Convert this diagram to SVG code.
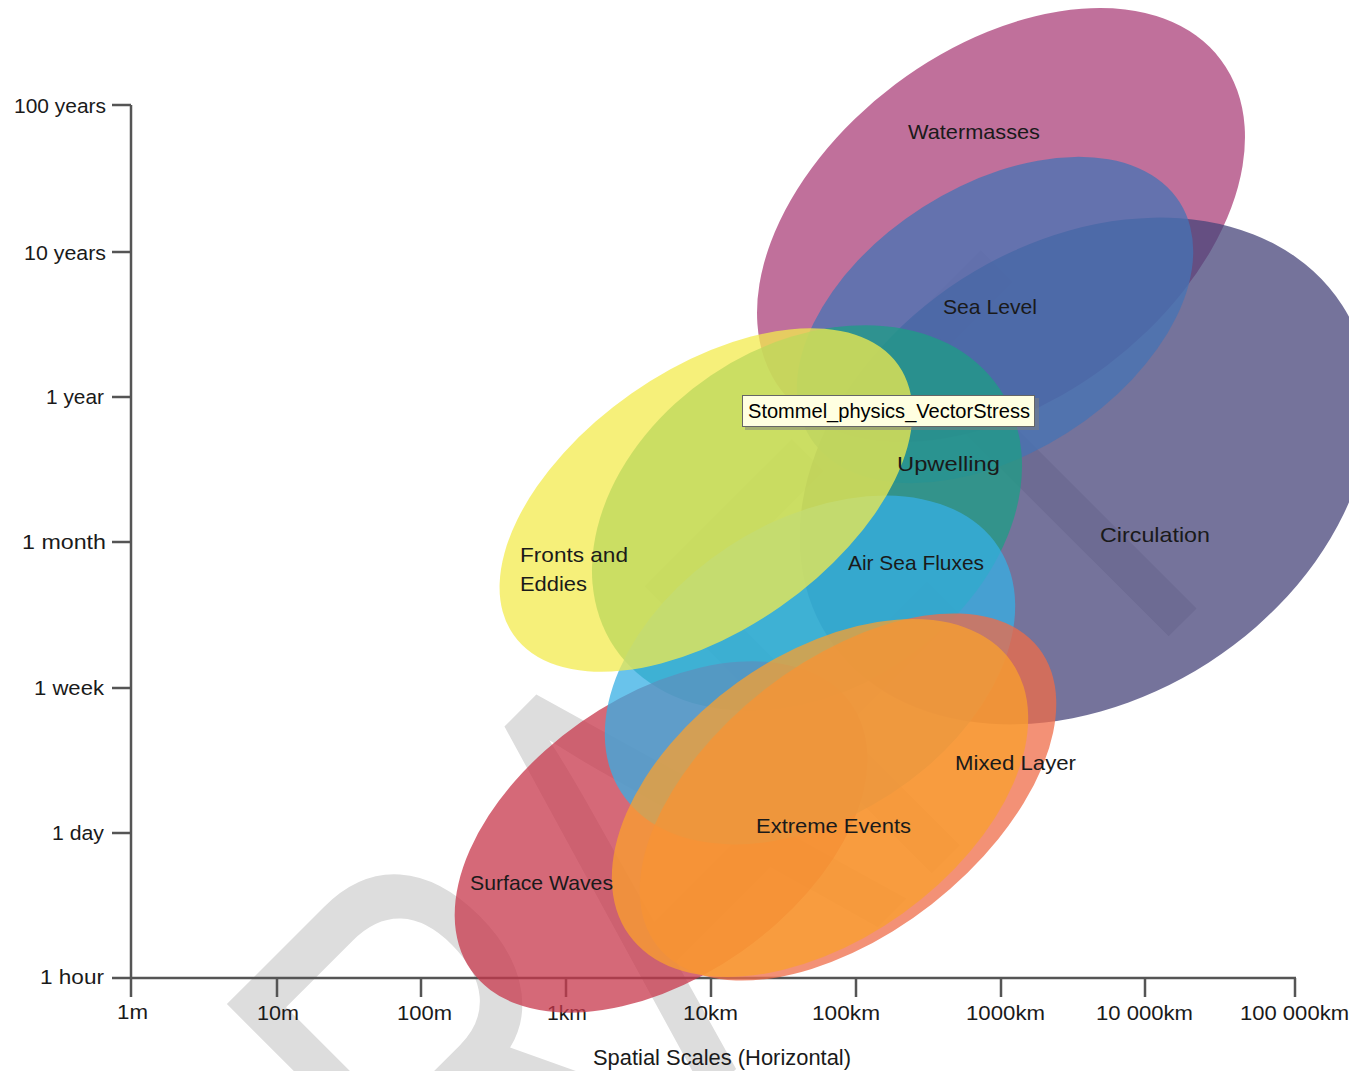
<svg xmlns="http://www.w3.org/2000/svg" width="1349" height="1071" viewBox="0 0 1349 1071">
<style>
.lbl{font-family:"Liberation Sans",Arial,sans-serif;font-size:21px;fill:#1a1a1a}
.axl{font-family:"Liberation Sans",Arial,sans-serif;font-size:20.5px;fill:#1a1a1a}
.ax{stroke:#555;stroke-width:2.5;fill:none}
.yl{text-anchor:end}
.xl{text-anchor:middle}
.blob{fill-opacity:0.75}
.wm{font-family:"Liberation Sans",Arial,sans-serif;font-size:590px;fill:#dddddd}
.tip{font-family:"Liberation Sans",Arial,sans-serif;font-size:19.5px;fill:#000}
</style>
<rect width="1349" height="1071" fill="#ffffff"/>
<g id="watermark">
<text class="wm" transform="translate(272,1533) rotate(-45) scale(0.721,1)">DRAFT</text>
</g>
<g id="axes">
<path class="ax" d="M131,105 V997 M112,978 H1296"/>
<path class="ax" d="M112,105 H131 M112,252 H131 M112,397 H131 M112,542 H131 M112,688 H131 M112,833 H131"/>
<path class="ax" d="M277,978 V997 M421,978 V997 M566,978 V997 M711,978 V997 M856,978 V997 M1001,978 V997 M1145,978 V997 M1295,978 V997"/>
<text class="axl yl" x="106" y="113" textLength="92" lengthAdjust="spacingAndGlyphs">100 years</text>
<text class="axl yl" x="106" y="260" textLength="82" lengthAdjust="spacingAndGlyphs">10 years</text>
<text class="axl yl" x="104" y="404" textLength="58" lengthAdjust="spacingAndGlyphs">1 year</text>
<text class="axl yl" x="106" y="549" textLength="84" lengthAdjust="spacingAndGlyphs">1 month</text>
<text class="axl yl" x="104" y="695" textLength="70" lengthAdjust="spacingAndGlyphs">1 week</text>
<text class="axl yl" x="104" y="840" textLength="52" lengthAdjust="spacingAndGlyphs">1 day</text>
<text class="axl yl" x="104" y="984" textLength="64" lengthAdjust="spacingAndGlyphs">1 hour</text>
<text class="axl xl" x="132.5" y="1019" textLength="31" lengthAdjust="spacingAndGlyphs">1m</text>
<text class="axl xl" x="278" y="1020" textLength="42" lengthAdjust="spacingAndGlyphs">10m</text>
<text class="axl xl" x="424.5" y="1020" textLength="55" lengthAdjust="spacingAndGlyphs">100m</text>
<text class="axl xl" x="567" y="1020" textLength="40" lengthAdjust="spacingAndGlyphs">1km</text>
<text class="axl xl" x="710.5" y="1020" textLength="55" lengthAdjust="spacingAndGlyphs">10km</text>
<text class="axl xl" x="846" y="1020" textLength="68" lengthAdjust="spacingAndGlyphs">100km</text>
<text class="axl xl" x="1005.5" y="1020" textLength="79" lengthAdjust="spacingAndGlyphs">1000km</text>
<text class="axl xl" x="1144.5" y="1020" textLength="97" lengthAdjust="spacingAndGlyphs">10 000km</text>
<text class="axl xl" x="1294.5" y="1020" textLength="109" lengthAdjust="spacingAndGlyphs">100 000km</text>
<text class="axl xl" x="722" y="1065" textLength="258" lengthAdjust="spacingAndGlyphs" style="font-size:21.5px">Spatial Scales (Horizontal)</text>
</g>
<g id="node-watermasses"><ellipse class="blob" cx="1001" cy="225" rx="275" ry="176" transform="rotate(-36.9 1001 225)" fill="#AB407A"/></g>
<g id="node-circulation"><ellipse class="blob" cx="1085" cy="471" rx="306" ry="228" transform="rotate(-32.8 1085 471)" fill="#47447A"/></g>
<g id="node-sea-level"><ellipse class="blob" cx="995" cy="320" rx="219" ry="134" transform="rotate(-32.5 995 320)" fill="#4673B4"/></g>
<g id="node-upwelling"><ellipse class="blob" cx="807" cy="518" rx="232" ry="172" transform="rotate(-34 807 518)" fill="#1E9E85"/></g>
<g id="node-surface-waves"><ellipse class="blob" cx="661" cy="837" rx="232" ry="140" transform="rotate(-35 661 837)" fill="#C7374B"/></g>
<g id="node-air-sea-fluxes"><ellipse class="blob" cx="810" cy="670" rx="225" ry="148" transform="rotate(-33 810 670)" fill="#37AFE4"/></g>
<g id="node-fronts-eddies"><ellipse class="blob" cx="706" cy="500" rx="235" ry="130" transform="rotate(-35 706 500)" fill="#F3EB4E"/></g>
<g id="node-mixed-layer"><ellipse class="blob" cx="848" cy="797" rx="242" ry="136" transform="rotate(-38 848 797)" fill="#EF6C48"/></g>
<g id="node-extreme-events"><ellipse class="blob" cx="820" cy="798" rx="235" ry="142" transform="rotate(-35.6 820 798)" fill="#FAA02D"/></g>
<g id="labels">
<text class="lbl" x="908" y="139" textLength="132" lengthAdjust="spacingAndGlyphs">Watermasses</text>
<text class="lbl" x="943" y="314" textLength="94" lengthAdjust="spacingAndGlyphs">Sea Level</text>
<text class="lbl" x="897" y="471" textLength="103" lengthAdjust="spacingAndGlyphs">Upwelling</text>
<text class="lbl" x="1100" y="542" textLength="110" lengthAdjust="spacingAndGlyphs">Circulation</text>
<text class="lbl" x="520" y="562" textLength="108" lengthAdjust="spacingAndGlyphs">Fronts and</text>
<text class="lbl" x="520" y="591" textLength="67" lengthAdjust="spacingAndGlyphs">Eddies</text>
<text class="lbl" x="848" y="570" textLength="136" lengthAdjust="spacingAndGlyphs">Air Sea Fluxes</text>
<text class="lbl" x="955" y="770" textLength="121" lengthAdjust="spacingAndGlyphs">Mixed Layer</text>
<text class="lbl" x="756" y="833" textLength="155" lengthAdjust="spacingAndGlyphs">Extreme Events</text>
<text class="lbl" x="470" y="890" textLength="143" lengthAdjust="spacingAndGlyphs">Surface Waves</text>
</g>
<g id="tooltip">
<rect x="745" y="398" width="294" height="32" fill="#808080" fill-opacity="0.5"/>
<rect x="742.5" y="395.5" width="292" height="31" fill="#FFFFE1" stroke="#666" stroke-width="1"/>
<text class="tip" x="748" y="418" textLength="282" lengthAdjust="spacingAndGlyphs">Stommel_physics_VectorStress</text>
</g>
</svg>
